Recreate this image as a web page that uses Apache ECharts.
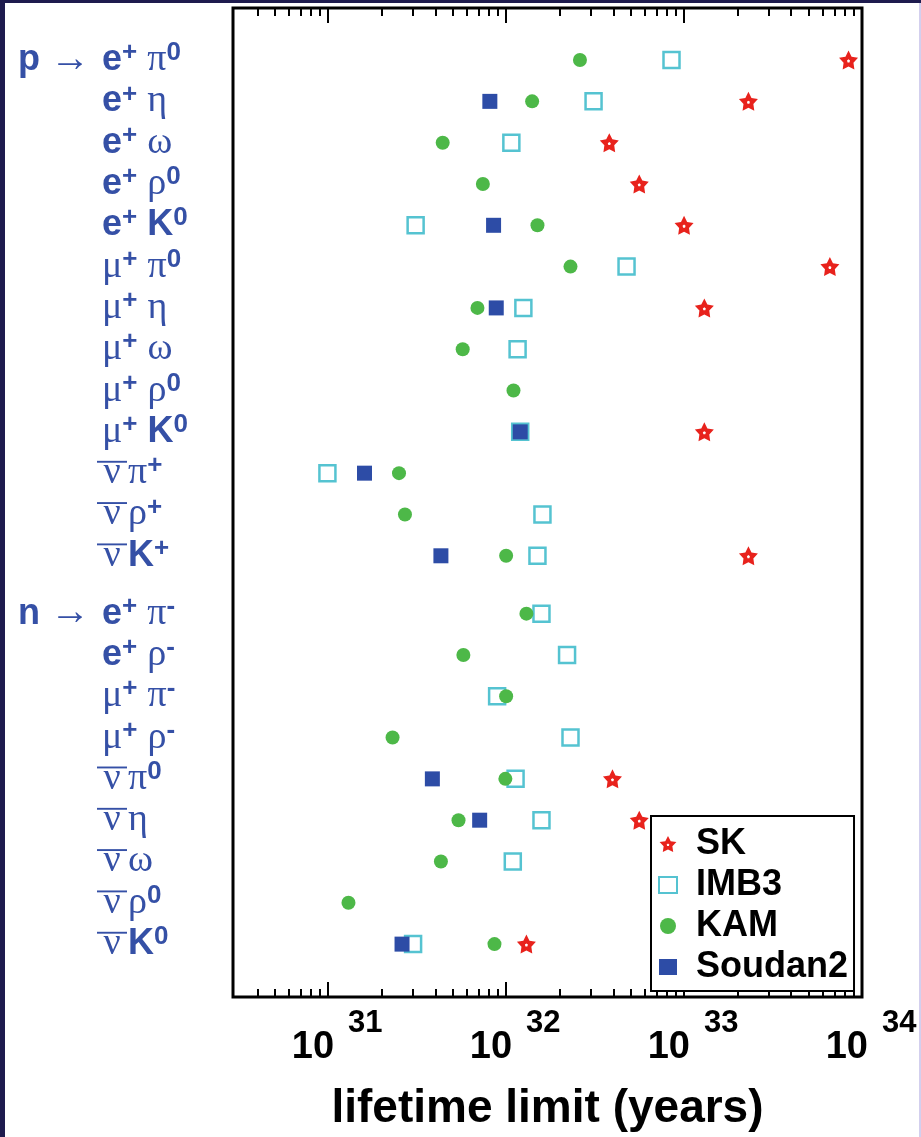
<!DOCTYPE html>
<html>
<head>
<meta charset="utf-8">
<title>nucleon decay lifetime limits</title>
<script src="https://cdn.jsdelivr.net/npm/echarts@6/dist/echarts.min.js"></script>
<style>
  html, body { margin: 0; padding: 0; background: #fff; }
  #chart { width: 921px; height: 1137px; }
</style>
</head>
<body>
<div id="chart"></div>
<script>
// decay channels, top to bottom (label markup for the rich text styles below)
const decays = [
  '{pb|p}{ar|→}{b|e}{s|+}{sp|}{g|π}{s|0}',
  '{in|}{b|e}{s|+}{sp|}{g|η}',
  '{in|}{b|e}{s|+}{sp|}{g|ω}',
  '{in|}{b|e}{s|+}{sp|}{g|ρ}{s|0}',
  '{in|}{b|e}{s|+}{sp|}{b|K}{s|0}',
  '{in|}{g|μ}{s|+}{sp|}{g|π}{s|0}',
  '{in|}{g|μ}{s|+}{sp|}{g|η}',
  '{in|}{g|μ}{s|+}{sp|}{g|ω}',
  '{in|}{g|μ}{s|+}{sp|}{g|ρ}{s|0}',
  '{in|}{g|μ}{s|+}{sp|}{b|K}{s|0}',
  '{iv|}{nu|ν}{g|π}{s|+}',
  '{iv|}{nu|ν}{g|ρ}{s|+}',
  '{iv|}{nu|ν}{b|K}{s|+}',
  '{pb|n}{ar|→}{b|e}{s|+}{sp|}{g|π}{s|-}',
  '{in|}{b|e}{s|+}{sp|}{g|ρ}{s|-}',
  '{in|}{g|μ}{s|+}{sp|}{g|π}{s|-}',
  '{in|}{g|μ}{s|+}{sp|}{g|ρ}{s|-}',
  '{iv|}{nu|ν}{g|π}{s|0}',
  '{iv|}{nu|ν}{g|η}',
  '{iv|}{nu|ν}{g|ω}',
  '{iv|}{nu|ν}{g|ρ}{s|0}',
  '{iv|}{nu|ν}{b|K}{s|0}'
]
const protonRows = 13
const groupGap = 0.4

// lifetime limits (years), null = no limit drawn
const SK = [8.4e33, 2.3e33, 3.8e32, 5.6e32, 1.0e33, 6.6e33, 1.3e33, null, null, 1.3e33, null, null, 2.3e33,
  null, null, null, null, 3.96e32, 5.6e32, null, null, 1.3e32]
const IMB3 = [8.5e32, 3.1e32, 1.07e32, null, 3.1e31, 4.75e32, 1.25e32, 1.16e32, null, 1.2e32, 9.9e30, 1.6e32, 1.5e32,
  1.58e32, 2.2e32, 8.9e31, 2.3e32, 1.13e32, 1.58e32, 1.09e32, null, 3.0e31]
const KAM = [2.6e32, 1.4e32, 4.4e31, 7.4e31, 1.5e32, 2.3e32, 6.9e31, 5.7e31, 1.1e32, null, 2.5e31, 2.7e31, 1.0e32,
  1.3e32, 5.75e31, 1.0e32, 2.3e31, 9.9e31, 5.4e31, 4.3e31, 1.3e31, 8.6e31]
const Soudan2 = [null, 8.1e31, null, null, 8.5e31, null, 8.8e31, null, null, 1.2e32, 1.6e31, null, 4.3e31,
  null, null, null, null, 3.85e31, 7.1e31, null, null, 2.6e31]

const experiments = ['SK', 'IMB3', 'KAM', 'Soudan2']
const majorTicks = [31, 32, 33, 34]

const xMin = 30.465
const xMax = 34
const sans = 'Liberation Sans'
const serif = 'Liberation Serif'
const blue = '#3550a6'

const rowPos = decays.map((d, i) => i < protonRows ? i : i + groupGap)

const minorTicks = []
for (let d = 30; d < 34; d++) {
  for (let k = 2; k < 10; k++) {
    const v = d + Math.log10(k)
    if (v > xMin + 0.02 && v < xMax) minorTicks.push(v)
  }
}

// bar over the antineutrino
function overline(w, h, y) {
  const c = document.createElement('canvas')
  c.width = w
  c.height = h
  const ctx = c.getContext('2d')
  ctx.fillStyle = blue
  ctx.fillRect(1, y, w - 2, 2)
  return c
}

function points(vals) {
  return vals.map((v, i) => v == null ? null : [Math.log10(v), rowPos[i]]).filter(p => p)
}

function tickAxis(position, values, length) {
  return {
    type: 'value',
    position: position,
    min: xMin,
    max: xMax,
    axisLine: { show: false, onZero: false },
    splitLine: { show: false },
    axisTick: { show: true, inside: true, length: length, customValues: values, lineStyle: { color: '#000', width: 2 } },
    axisLabel: { show: false }
  }
}

const chart = echarts.init(document.getElementById('chart'))

const bottomAxis = tickAxis('bottom', majorTicks, 15)
bottomAxis.axisLabel = {
  show: true,
  customValues: majorTicks,
  margin: 11,
  formatter: v => '{p|}{b|10}{s|' + v + '}',
  rich: {
    p: { width: 18 },
    b: { fontFamily: sans, fontWeight: 'bold', fontSize: 38, color: '#000', lineHeight: 80 },
    s: { fontFamily: sans, fontWeight: 'bold', fontSize: 31, color: '#000', lineHeight: 18, verticalAlign: 'top', padding: [0, 0, 0, 14] }
  }
}
bottomAxis.name = 'lifetime limit (years)'
bottomAxis.nameLocation = 'middle'
bottomAxis.nameGap = 89
bottomAxis.nameMoveOverlap = false
bottomAxis.nameTextStyle = { fontFamily: sans, fontWeight: 'bold', fontSize: 46, color: '#000' }

// fat star with a small hole in the middle
const starPath = 'path://M50,2 L65.3,31 L97.6,36.5 L74.7,60 L79.4,92.5 L50,78 L20.6,92.5 L25.3,60 L2.4,36.5 L34.7,31 Z ' +
  'M50,44 L42.4,49.5 L45.3,58.5 L54.7,58.5 L57.6,49.5 Z'

const symbolStyle = {
  SK: { symbol: starPath, symbolSize: 19, itemStyle: { color: '#e8221c', opacity: 1 } },
  IMB3: { symbol: 'rect', symbolSize: 16, itemStyle: { color: '#fff', borderColor: '#55c3d1', borderWidth: 2.5, opacity: 1 } },
  KAM: { symbol: 'circle', symbolSize: 14, itemStyle: { color: '#4db848', opacity: 1 } },
  Soudan2: { symbol: 'rect', symbolSize: 15, itemStyle: { color: '#2d4ca6', opacity: 1 } }
}
const seriesData = { SK: SK, IMB3: IMB3, KAM: KAM, Soudan2: Soudan2 }
// draw order: SK last so the stars stay on top
const drawOrder = ['IMB3', 'KAM', 'Soudan2', 'SK']

const option = {
  animation: false,
  backgroundColor: '#fff',
  grid: {
    left: 233, right: 59, top: 8, bottom: 140,
    show: true, borderColor: '#000', borderWidth: 3,
    outerBoundsMode: 'none'
  },
  xAxis: [
    bottomAxis,
    tickAxis('bottom', minorTicks, 8),
    tickAxis('top', majorTicks, 15),
    tickAxis('top', minorTicks, 8)
  ],
  yAxis: {
    type: 'value',
    inverse: true,
    min: -1.26,
    max: 22.68,
    axisLine: { show: false, onZero: false },
    axisTick: { show: false },
    splitLine: { show: false },
    axisLabel: {
      customValues: rowPos,
      align: 'left',
      margin: 215,
      color: blue,
      formatter: v => decays[rowPos.findIndex(p => Math.abs(p - v) < 1e-6)] || '',
      rich: {
        pb: { fontFamily: sans, fontWeight: 'bold', fontSize: 36, width: 32, lineHeight: 40, color: blue },
        ar: { fontFamily: serif, fontSize: 40, width: 52, lineHeight: 40, color: blue },
        in: { width: 84, lineHeight: 40 },
        iv: { width: 78, lineHeight: 40 },
        b: { fontFamily: sans, fontWeight: 'bold', fontSize: 36, lineHeight: 40, color: blue },
        g: { fontFamily: serif, fontSize: 38, lineHeight: 40, color: blue },
        s: { fontFamily: sans, fontWeight: 'bold', fontSize: 26, lineHeight: 5, verticalAlign: 'top', color: blue },
        sp: { width: 10, lineHeight: 40 },
        nu: { fontFamily: serif, fontSize: 38, width: 32, align: 'center', lineHeight: 40, color: blue,
          backgroundColor: { image: overline(32, 40, 7) } }
      }
    }
  },
  legend: {
    data: experiments,
    orient: 'vertical',
    left: 651,
    top: 816,
    padding: [8, 6, 4, 7],
    itemGap: 1,
    itemWidth: 18,
    itemHeight: 16,
    borderColor: '#000',
    borderWidth: 2,
    backgroundColor: '#fff',
    selectedMode: false,
    textStyle: { fontFamily: sans, fontWeight: 'bold', fontSize: 36, color: '#000', lineHeight: 40, padding: [0, 0, 0, 14] }
  },
  graphic: [
    { type: 'rect', left: 0, top: 0, silent: true, shape: { width: 5, height: 1137 }, style: { fill: '#1e1b4e' } },
    { type: 'rect', left: 0, top: 0, silent: true, shape: { width: 921, height: 3 }, style: { fill: '#1e1b4e' } },
    { type: 'rect', left: 919, top: 3, silent: true, shape: { width: 2, height: 1134 }, style: { fill: '#d3cfee' } }
  ],
  series: drawOrder.map(name => ({
    name: name,
    type: 'scatter',
    xAxisIndex: 0,
    yAxisIndex: 0,
    symbol: symbolStyle[name].symbol,
    symbolSize: symbolStyle[name].symbolSize,
    itemStyle: symbolStyle[name].itemStyle,
    emphasis: { disabled: true },
    data: points(seriesData[name])
  }))
}

chart.setOption(option)
</script>
</body>
</html>
